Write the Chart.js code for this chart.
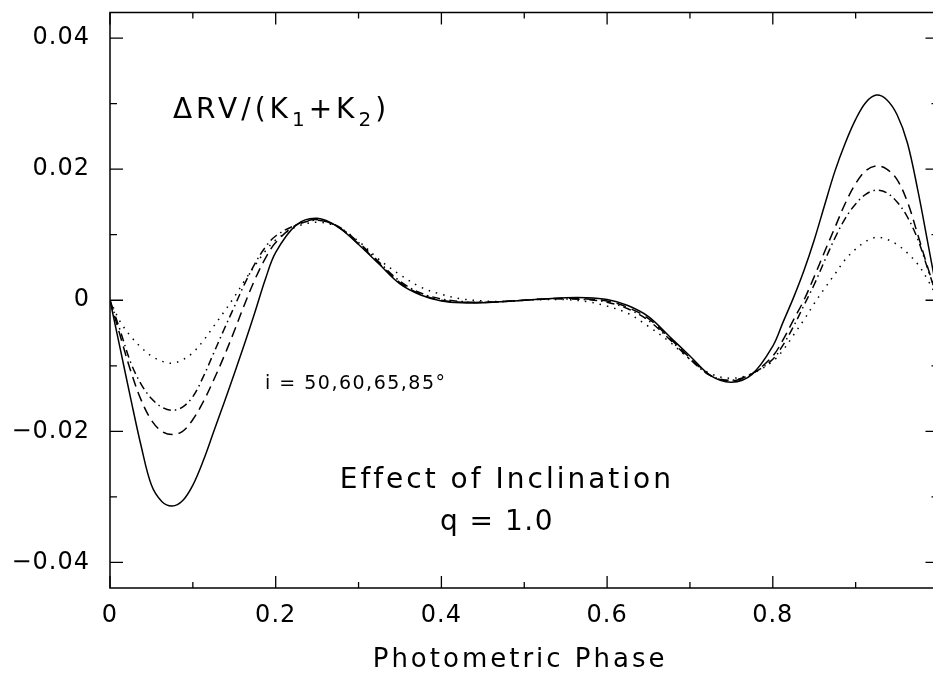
<!DOCTYPE html>
<html>
<head>
<meta charset="utf-8">
<title>Effect of Inclination</title>
<script src="https://cdn.jsdelivr.net/npm/chart.js@4/dist/chart.umd.min.js"></script>
<style>
  html, body { margin: 0; padding: 0; background: #fff; overflow: hidden; }
  canvas { display: block; }
</style>
</head>
<body>
<canvas id="rvChart" width="940" height="675"></canvas>
<script>
// photometric phase (x) and ΔRV/(K1+K2) for the four inclinations
const phase = [0, 0.0125, 0.025, 0.0375, 0.05, 0.0625, 0.075, 0.0875, 0.1, 0.1125, 0.125, 0.1375, 0.15, 0.1625, 0.175, 0.1875, 0.2,
  0.225, 0.25, 0.275, 0.3, 0.325, 0.35, 0.375, 0.4, 0.425, 0.45, 0.475, 0.5, 0.525, 0.55, 0.575, 0.6, 0.625, 0.65, 0.675, 0.7, 0.725, 0.75, 0.775,
  0.8, 0.8125, 0.825, 0.8375, 0.85, 0.8625, 0.875, 0.8875, 0.9, 0.9125, 0.925, 0.9375, 0.95, 0.9625, 0.975, 0.9875, 1];

const incl85 = [0, -0.0075, -0.0150, -0.0222, -0.0282, -0.0307, -0.0314, -0.0306, -0.0282, -0.0245, -0.0201, -0.0157, -0.0112, -0.0066, -0.0018, 0.0032, 0.0073,
  0.0115, 0.0125, 0.0112, 0.0085, 0.0055, 0.0025, 0.0008, -0.0001, -0.0004, -0.0004, -0.0002, 0, 0.0002, 0.0004, 0.0004, 0.0001, -0.0008, -0.0025, -0.0055, -0.0085, -0.0115, -0.0125, -0.0113,
  -0.0070, -0.0033, 0.0004, 0.0045, 0.0092, 0.0145, 0.0197, 0.0240, 0.0276, 0.0302, 0.0313, 0.0306, 0.0283, 0.0240, 0.0168, 0.0085, 0];

const incl65 = [0, -0.0055, -0.0108, -0.0152, -0.0183, -0.0200, -0.0205, -0.0200, -0.0182, -0.0155, -0.0122, -0.0086, -0.0047, -0.0006, 0.0032, 0.0064, 0.0088,
  0.0115, 0.0123, 0.0112, 0.0086, 0.0056, 0.0027, 0.0009, 0, -0.0003, -0.0003, -0.0002, 0, 0.0002, 0.0003, 0.0002, -0.0001, -0.0011, -0.0028, -0.0057, -0.0088, -0.0115, -0.0123, -0.0112,
  -0.0085, -0.0060, -0.0030, 0, 0.0036, 0.0074, 0.0111, 0.0148, 0.0178, 0.0198, 0.0205, 0.0200, 0.0184, 0.0150, 0.0100, 0.0048, 0];

const incl60 = [0, -0.0047, -0.0095, -0.0128, -0.0150, -0.0163, -0.0168, -0.0163, -0.0147, -0.0117, -0.0081, -0.0045, -0.0010, 0.0025, 0.0056, 0.0081, 0.0098,
  0.0115, 0.0122, 0.0113, 0.0088, 0.0058, 0.0029, 0.0011, 0.0002, -0.0002, -0.0003, -0.0002, 0, 0.0002, 0.0002, 0.0001, -0.0003, -0.0013, -0.0031, -0.0059, -0.0090, -0.0115, -0.0122, -0.0112,
  -0.0090, -0.0068, -0.0040, -0.0008, 0.0024, 0.0060, 0.0095, 0.0125, 0.0147, 0.0162, 0.0168, 0.0164, 0.0150, 0.0127, 0.0093, 0.0046, 0];

const incl50 = [0, -0.0033, -0.0055, -0.0072, -0.0085, -0.0093, -0.0096, -0.0091, -0.0080, -0.0062, -0.0040, -0.0018, 0.0005, 0.0030, 0.0053, 0.0075, 0.0092,
  0.0112, 0.0119, 0.0112, 0.0090, 0.0062, 0.0039, 0.0020, 0.0009, 0.0002, -0.0001, -0.0002, 0, 0.0001, 0.0001, -0.0002, -0.0009, -0.0020, -0.0040, -0.0063, -0.0090, -0.0112, -0.0119, -0.0112,
  -0.0093, -0.0076, -0.0053, -0.0030, -0.0005, 0.0018, 0.0040, 0.0062, 0.0078, 0.0090, 0.0096, 0.0093, 0.0085, 0.0072, 0.0055, 0.0030, 0];

const xTicks = [0, 0.2, 0.4, 0.6, 0.8];
const xTickLabels = ['0', '0.2', '0.4', '0.6', '0.8'];
const yTicks = [0.04, 0.02, 0, -0.02, -0.04];
const yTickLabels = ['0.04', '0.02', '0', '\u22120.02', '\u22120.04'];

const FONT = '"DejaVu Sans", sans-serif';

function pts(ys) {
  return phase.map((p, i) => ({ x: p, y: ys[i] }));
}

function line(label, ys, dash) {
  return {
    label: label,
    data: pts(ys),
    borderColor: '#000',
    borderWidth: 1.5,
    borderDash: dash,
    pointRadius: 0,
    tension: 0.35,
    fill: false
  };
}

// text drawn with a little extra letter spacing (the original font is wide)
function spaced(ctx, text, x, y, font, spacing, align) {
  ctx.font = font;
  ctx.letterSpacing = spacing + 'px';
  ctx.textAlign = align || 'left';
  ctx.fillText(text, x, y);
  const w = ctx.measureText(text).width;
  ctx.letterSpacing = '0px';
  return w;
}

const framePlugin = {
  id: 'frame',
  beforeDraw(chart) {
    chart.ctx.letterSpacing = '1px'; // tick labels
  },
  afterDraw(chart) {
    const ctx = chart.ctx;
    const a = chart.chartArea;
    const xs = chart.scales.x, ys = chart.scales.y;
    ctx.save();
    ctx.strokeStyle = '#000';
    ctx.lineWidth = 1.5;
    ctx.strokeRect(a.left, a.top, a.right - a.left, a.bottom - a.top);
    // inward tick marks on all four sides
    ctx.lineWidth = 1.3;
    ctx.beginPath();
    for (let k = 0; k <= 10; k++) {
      const px = xs.getPixelForValue(k / 10);
      const len = k % 2 === 0 ? 12 : 6;
      ctx.moveTo(px, a.bottom); ctx.lineTo(px, a.bottom - len);
      ctx.moveTo(px, a.top); ctx.lineTo(px, a.top + len);
    }
    for (let k = -4; k <= 4; k++) {
      const py = ys.getPixelForValue(k / 100);
      const len = k % 2 === 0 ? 13 : 7;
      ctx.moveTo(a.left, py); ctx.lineTo(a.left + len, py);
      ctx.moveTo(a.right, py); ctx.lineTo(a.right - len, py);
    }
    ctx.stroke();

    ctx.fillStyle = '#000';
    ctx.textBaseline = 'alphabetic';

    // x axis title
    spaced(ctx, 'Photometric Phase', xs.getPixelForValue(0.495), 667, '26px ' + FONT, 3, 'center');

    // ΔRV/(K1+K2) with subscripts
    let x = xs.getPixelForValue(0.076);
    const yb = ys.getPixelForValue(0.0278);
    const big = '28px ' + FONT, sub = '20px ' + FONT;
    const parts = [['\u0394RV/(K', big, 0], ['1', sub, 8], ['+K', big, 0], ['2', sub, 8], [')', big, 0]];
    parts.forEach(([t, f, dy]) => {
      x += spaced(ctx, t, x, yb + dy, f, 4, 'left');
    });

    spaced(ctx, 'i = 50,60,65,85\u00B0', xs.getPixelForValue(0.187), ys.getPixelForValue(-0.0135), '19px ' + FONT, 1.5, 'left');
    spaced(ctx, 'Effect of Inclination', xs.getPixelForValue(0.479), ys.getPixelForValue(-0.0286), '28px ' + FONT, 3, 'center');
    spaced(ctx, 'q = 1.0', xs.getPixelForValue(0.467), ys.getPixelForValue(-0.0351), '28px ' + FONT, 1.5, 'center');
    ctx.restore();
  }
};

new Chart(document.getElementById('rvChart').getContext('2d'), {
  type: 'line',
  data: {
    datasets: [
      line('i = 85', incl85, []),
      line('i = 65', incl65, [10, 6]),
      line('i = 60', incl60, [8, 4, 1.5, 4]),
      line('i = 50', incl50, [1.5, 6])
    ]
  },
  options: {
    responsive: false,
    animation: false,
    layout: { padding: { left: 0, top: 12.5, right: 1.5, bottom: 0 } },
    plugins: { legend: { display: false }, tooltip: { enabled: false } },
    scales: {
      x: {
        type: 'linear',
        min: 0,
        max: 1,
        afterBuildTicks: s => { s.ticks = xTicks.map(v => ({ value: v })); },
        afterFit: s => { s.height = 87; s.paddingLeft = 0; s.paddingRight = 0; },
        grid: { display: false, drawTicks: false },
        border: { display: false },
        ticks: {
          padding: 13,
          color: '#000',
          font: { family: FONT, size: 24 },
          maxRotation: 0,
          callback: v => xTickLabels[xTicks.indexOf(v)]
        }
      },
      y: {
        type: 'linear',
        min: -0.0439,
        max: 0.0439,
        afterBuildTicks: s => { s.ticks = yTicks.map(v => ({ value: v })); },
        afterFit: s => { s.width = 110; s.paddingTop = 0; s.paddingBottom = 0; },
        grid: { display: false, drawTicks: false },
        border: { display: false },
        ticks: {
          padding: 20,
          color: '#000',
          font: { family: FONT, size: 24 },
          callback: v => yTickLabels[yTicks.indexOf(v)]
        }
      }
    }
  },
  plugins: [framePlugin]
});
</script>
</body>
</html>
